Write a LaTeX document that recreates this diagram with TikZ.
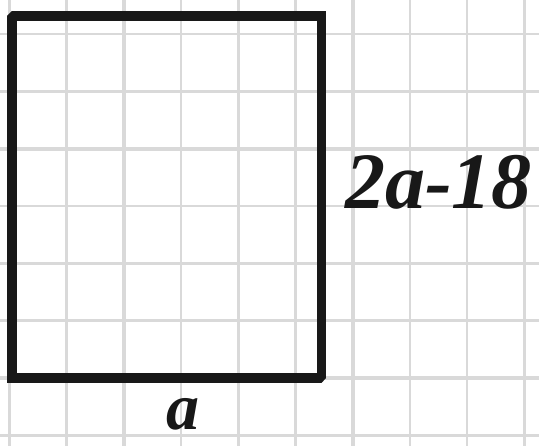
\documentclass[tikz,border=0pt]{standalone}
\usepackage{fontspec}
\newfontfamily\handfont{Liberation Serif}
\definecolor{gridgray}{HTML}{D9D9D9}
\definecolor{ink}{HTML}{181818}
\tikzset{
  thingrid/.style={draw=gridgray, line width=2.6pt},
  thickgrid/.style={draw=gridgray, line width=4.2pt},
  frame/.style={draw=ink, line width=9.5pt, line join=bevel, line cap=rect},
  label/.style={inner sep=0pt, text=ink, font=\handfont\bfseries\itshape\fontsize{80}{80}\selectfont}
}
\begin{document}
\begin{tikzpicture}[x=1pt, y=-1pt]
\useasboundingbox (0,0) rectangle (539,446);
\clip (0,0) rectangle (539,446);
\fill[white] (0,0) rectangle (539,446);
% grid
\foreach \k in {0,...,9} {
  \pgfmathsetmacro{\xx}{9.5+57.2*\k}
  \ifnum\k=2 \draw[thickgrid] (\xx,0) -- (\xx,446);
  \else\ifnum\k=6 \draw[thickgrid] (\xx,0) -- (\xx,446);
  \else \draw[thingrid] (\xx,0) -- (\xx,446); \fi\fi
}
\foreach \k in {0,...,7} {
  \pgfmathsetmacro{\yy}{34+57.35*\k}
  \ifnum\k=2 \draw[thickgrid] (0,\yy) -- (539,\yy);
  \else\ifnum\k=6 \draw[thickgrid] (0,\yy) -- (539,\yy);
  \else \draw[thingrid] (0,\yy) -- (539,\yy); \fi\fi
}
% rectangle
\coordinate (tl) at (12,16);
\coordinate (tr) at (321.5,16);
\coordinate (br) at (321.5,378);
\coordinate (bl) at (12,378);
\draw[frame] (bl) -- (tl) -- (tr);
\draw[frame] (tr) -- (br) -- (bl);
% labels
\node[label, anchor=base west] (side) at (345,209) {2a-18};
\node[label, anchor=base, font=\handfont\bfseries\itshape\fontsize{66}{66}\selectfont] (bottom) at (183,430) {a};
\end{tikzpicture}
\end{document}
